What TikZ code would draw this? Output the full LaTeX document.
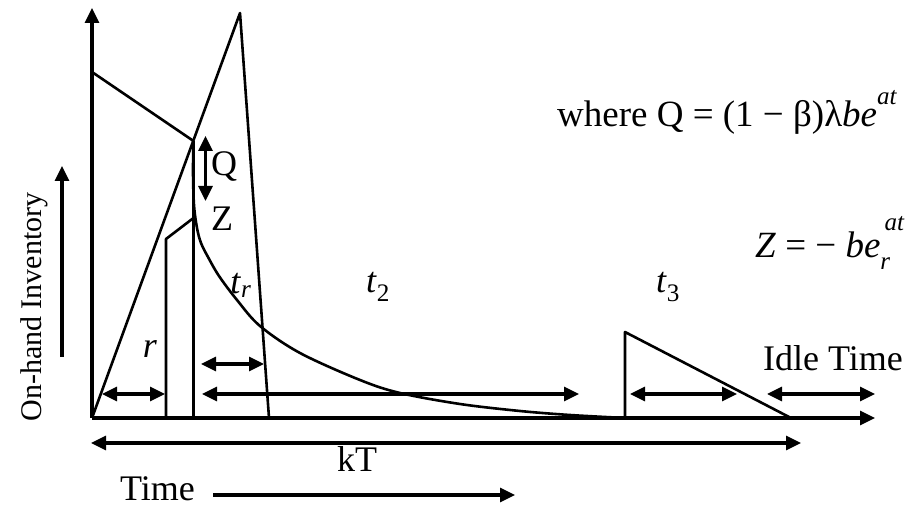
\documentclass[tikz,border=0pt]{standalone}
\usepackage{fontspec}
\setmainfont{Liberation Serif}
\usetikzlibrary{arrows.meta}
\begin{document}
\begin{tikzpicture}[x=1pt,y=-1pt,
  ln/.style={line width=2.6pt,line join=round},
  tip/.tip={Triangle[length=15pt,width=14pt]},
  arr/.style={line width=3.2pt,-tip},
  darr/.style={line width=3.2pt,tip-tip},
  lbl/.style={font=\fontsize{36}{40}\selectfont,inner sep=0pt}]
\useasboundingbox (0,0) rectangle (906,510);
% axes
\coordinate (O) at (92,418);
\coordinate (ytop) at (92,8);
\coordinate (xend) at (875,418);
\draw[arr] (O) -- (ytop);
\draw[arr] (O) -- (xend);
% shapes
\coordinate (A) at (92,72);
\coordinate (B) at (193.5,141);
\coordinate (P) at (240,13);
\coordinate (PB) at (269,418);
\coordinate (VB) at (193.5,418);
\coordinate (S1) at (166,418);
\coordinate (S2) at (166,239);
\coordinate (S3) at (193.5,218);
\draw[ln] (A) -- (B);
\draw[ln] (O) -- (P) -- (PB);
\draw[ln] (B) -- (VB);
\draw[ln] (S1) -- (S2) -- (S3);
\draw[ln] plot[smooth,tension=0.55] coordinates {(193.5,141) (193,172) (194,205) (197,228) (201,243) (208,257) (219,276) (237,300) (260,326) (300,353) (360,380) (400,393) (460,404) (520,411) (570,415) (625,418)};
\coordinate (T1) at (625,418);
\coordinate (T2) at (625,332);
\coordinate (T3) at (791,418);
\draw[ln] (T1) -- (T2) -- (T3);
% double arrows
\coordinate (q1) at (205.5,136);
\coordinate (q2) at (205.5,201);
\draw[darr] (q1) -- (q2);
\coordinate (r1) at (102,394);
\coordinate (r2) at (165,394);
\draw[darr] (r1) -- (r2);
\coordinate (tr1) at (201,364);
\coordinate (tr2) at (264,364);
\draw[darr] (tr1) -- (tr2);
\coordinate (t21) at (202,394);
\coordinate (t22) at (579,394);
\draw[darr] (t21) -- (t22);
\coordinate (t31) at (630,394);
\coordinate (t32) at (737,394);
\draw[darr] (t31) -- (t32);
\coordinate (i1) at (767,394);
\coordinate (i2) at (875,394);
\draw[darr] (i1) -- (i2);
\coordinate (k1) at (91,443);
\coordinate (k2) at (801,443);
\draw[darr] (k1) -- (k2);
\coordinate (tm1) at (213,495);
\coordinate (tm2) at (515,495);
\draw[arr] (tm1) -- (tm2);
\coordinate (v1) at (62,357);
\coordinate (v2) at (62,166);
\draw[arr] (v1) -- (v2);
% labels
\node[lbl] (Ql) at (224,167) {Q};
\node[lbl] (Zl) at (222,219) {Z};
\node[lbl,anchor=base] (trl) at (241,294) {\textit{t}\textsubscript{\textit{r}}};
\node[lbl,anchor=base] (t2l) at (378,293) {\textit{t}\textsubscript{2}};
\node[lbl,anchor=base] (t3l) at (668,293) {\textit{t}\textsubscript{3}};
\node[lbl,anchor=base] (rl) at (150,358) {\textit{r}};
\node[lbl,anchor=base west] (idle) at (763,371) {Idle Time};
\node[lbl,anchor=base] (kT) at (357,472) {kT};
\node[lbl,anchor=base west] (time) at (120,501) {Time};
\node[lbl,font=\fontsize{30}{34}\selectfont,rotate=90] (inv) at (34,307) {On-hand Inventory};
\node[lbl,font=\fontsize{37}{40}\selectfont,anchor=base west] (fQ) at (557,127) {where Q = (1 − β)λ\textit{be}\raisebox{0.6em}{\fontsize{25}{25}\selectfont\itshape at}};
\node[lbl,font=\fontsize{37}{40}\selectfont,anchor=base west] (fZ) at (755,258) {\textit{Z} = − \textit{be}\rlap{\raisebox{-0.3em}{\fontsize{25}{25}\selectfont\itshape r}}\raisebox{0.75em}{\fontsize{25}{25}\selectfont\itshape \,at}};
\end{tikzpicture}
\end{document}
